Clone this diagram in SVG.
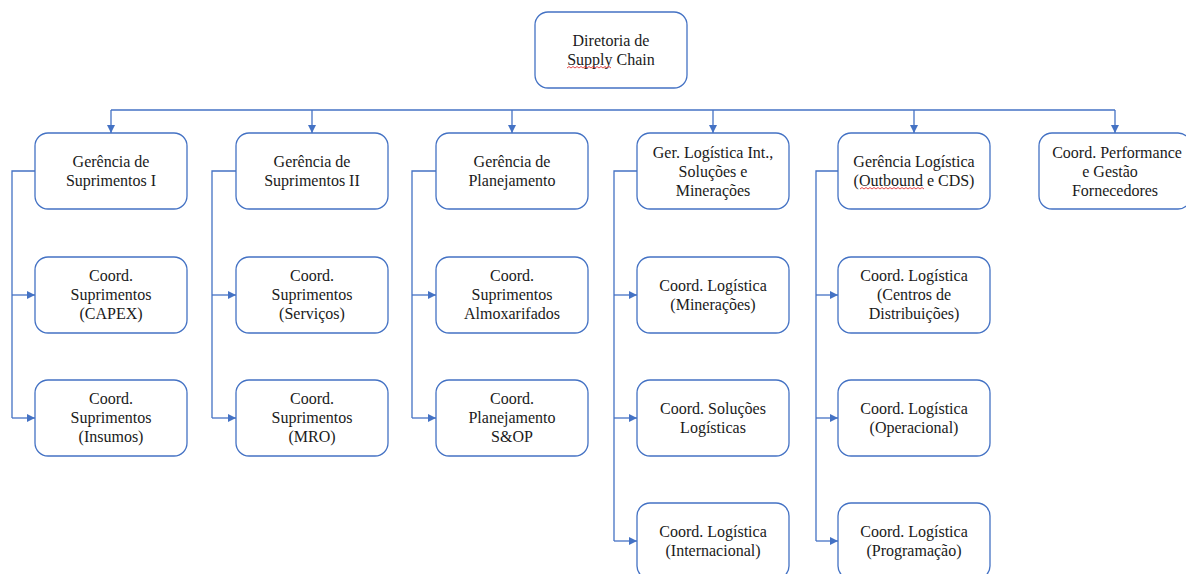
<svg xmlns="http://www.w3.org/2000/svg" width="1186" height="574" viewBox="0 0 1186 574">
<style>
.box{fill:#fff;stroke:#4472c4;stroke-width:1.3}
.t{font-family:"Liberation Serif","Times New Roman",serif;font-size:16px;fill:#1a1a1a;text-anchor:middle}
.c{fill:none;stroke:#4472c4;stroke-width:1.3}
.sq{fill:none;stroke:#e02020;stroke-width:0.8}
</style>
<defs>
<marker id="ah" viewBox="0 0 10 10" refX="10" refY="5" markerWidth="8" markerHeight="8" markerUnits="userSpaceOnUse" orient="auto">
<path d="M0,0 L10,5 L0,10 z" fill="#4472c4"/>
</marker>
</defs>
<rect width="1186" height="574" fill="#fff"/>
<g id="connectors">
<path class="c" d="M111,110 H1115"/>
<path class="c" marker-end="url(#ah)" d="M111,110 V133"/>
<path class="c" marker-end="url(#ah)" d="M312,110 V133"/>
<path class="c" marker-end="url(#ah)" d="M512,110 V133"/>
<path class="c" marker-end="url(#ah)" d="M713,110 V133"/>
<path class="c" marker-end="url(#ah)" d="M914,110 V133"/>
<path class="c" marker-end="url(#ah)" d="M1115,110 V133"/>
<path class="c" d="M35,171 H12 V418"/>
<path class="c" marker-end="url(#ah)" d="M12,295 H35"/>
<path class="c" marker-end="url(#ah)" d="M12,418 H35"/>
<path class="c" d="M236,171 H212 V418"/>
<path class="c" marker-end="url(#ah)" d="M212,295 H236"/>
<path class="c" marker-end="url(#ah)" d="M212,418 H236"/>
<path class="c" d="M436,171 H412 V418"/>
<path class="c" marker-end="url(#ah)" d="M412,295 H436"/>
<path class="c" marker-end="url(#ah)" d="M412,418 H436"/>
<path class="c" d="M637,171 H614 V541"/>
<path class="c" marker-end="url(#ah)" d="M614,295 H637"/>
<path class="c" marker-end="url(#ah)" d="M614,418 H637"/>
<path class="c" marker-end="url(#ah)" d="M614,541 H637"/>
<path class="c" d="M838,171 H816 V541"/>
<path class="c" marker-end="url(#ah)" d="M816,295 H838"/>
<path class="c" marker-end="url(#ah)" d="M816,418 H838"/>
<path class="c" marker-end="url(#ah)" d="M816,541 H838"/>
</g>
<g id="n0"><rect class="box" x="535" y="12" width="152" height="76" rx="13"/>
<text class="t" x="611" y="46"><tspan x="611">Diretoria de</tspan><tspan x="611" dy="19">Supply Chain</tspan></text>
<path class="sq" d="M567,68 l2,-1.5 l2,1.5 l2,-1.5 l2,1.5 l2,-1.5 l2,1.5 l2,-1.5 l2,1.5 l2,-1.5 l2,1.5 l2,-1.5 l2,1.5 l2,-1.5 l2,1.5 l2,-1.5 l2,1.5 l2,-1.5 l2,1.5 l2,-1.5 l2,1.5 l2,-1.5 l2,1.5"/></g>
<g id="n1"><rect class="box" x="35" y="133" width="152" height="76" rx="13"/>
<text class="t" x="111" y="167"><tspan x="111">Gerência de</tspan><tspan x="111" dy="19">Suprimentos I</tspan></text></g>
<g id="n2"><rect class="box" x="236" y="133" width="152" height="76" rx="13"/>
<text class="t" x="312" y="167"><tspan x="312">Gerência de</tspan><tspan x="312" dy="19">Suprimentos II</tspan></text></g>
<g id="n3"><rect class="box" x="436" y="133" width="152" height="76" rx="13"/>
<text class="t" x="512" y="167"><tspan x="512">Gerência de</tspan><tspan x="512" dy="19">Planejamento</tspan></text></g>
<g id="n4"><rect class="box" x="637" y="133" width="152" height="76" rx="13"/>
<text class="t" x="713" y="158"><tspan x="713">Ger. Logística Int.,</tspan><tspan x="713" dy="19">Soluções e</tspan><tspan x="713" dy="19">Minerações</tspan></text></g>
<g id="n5"><rect class="box" x="838" y="133" width="152" height="76" rx="13"/>
<text class="t" x="914" y="167"><tspan x="914">Gerência Logística</tspan><tspan x="914" dy="19">(Outbound e CDS)</tspan></text>
<path class="sq" d="M860,189 l2,-1.5 l2,1.5 l2,-1.5 l2,1.5 l2,-1.5 l2,1.5 l2,-1.5 l2,1.5 l2,-1.5 l2,1.5 l2,-1.5 l2,1.5 l2,-1.5 l2,1.5 l2,-1.5 l2,1.5 l2,-1.5 l2,1.5 l2,-1.5 l2,1.5 l2,-1.5 l2,1.5 l2,-1.5 l2,1.5 l2,-1.5 l2,1.5 l2,-1.5 l2,1.5 l2,-1.5 l2,1.5 l2,-1.5 l2,1.5"/></g>
<g id="n6"><rect class="box" x="1039" y="133" width="152" height="76" rx="13"/>
<text class="t" x="1115" y="158"><tspan x="1117">Coord. Performance</tspan><tspan x="1110" dy="19">e Gestão</tspan><tspan x="1115" dy="19">Fornecedores</tspan></text></g>
<g id="n7"><rect class="box" x="35" y="257" width="152" height="76" rx="13"/>
<text class="t" x="111" y="281"><tspan x="111">Coord.</tspan><tspan x="111" dy="19">Suprimentos</tspan><tspan x="111" dy="19">(CAPEX)</tspan></text></g>
<g id="n8"><rect class="box" x="35" y="380" width="152" height="76" rx="13"/>
<text class="t" x="111" y="404"><tspan x="111">Coord.</tspan><tspan x="111" dy="19">Suprimentos</tspan><tspan x="111" dy="19">(Insumos)</tspan></text></g>
<g id="n9"><rect class="box" x="236" y="257" width="152" height="76" rx="13"/>
<text class="t" x="312" y="281"><tspan x="312">Coord.</tspan><tspan x="312" dy="19">Suprimentos</tspan><tspan x="312" dy="19">(Serviços)</tspan></text></g>
<g id="n10"><rect class="box" x="236" y="380" width="152" height="76" rx="13"/>
<text class="t" x="312" y="404"><tspan x="312">Coord.</tspan><tspan x="312" dy="19">Suprimentos</tspan><tspan x="312" dy="19">(MRO)</tspan></text></g>
<g id="n11"><rect class="box" x="436" y="257" width="152" height="76" rx="13"/>
<text class="t" x="512" y="281"><tspan x="512">Coord.</tspan><tspan x="512" dy="19">Suprimentos</tspan><tspan x="512" dy="19">Almoxarifados</tspan></text></g>
<g id="n12"><rect class="box" x="436" y="380" width="152" height="76" rx="13"/>
<text class="t" x="512" y="404"><tspan x="512">Coord.</tspan><tspan x="512" dy="19">Planejamento</tspan><tspan x="512" dy="19">S&amp;OP</tspan></text></g>
<g id="n13"><rect class="box" x="637" y="257" width="152" height="76" rx="13"/>
<text class="t" x="713" y="291"><tspan x="713">Coord. Logística</tspan><tspan x="713" dy="19">(Minerações)</tspan></text></g>
<g id="n14"><rect class="box" x="637" y="380" width="152" height="76" rx="13"/>
<text class="t" x="713" y="414"><tspan x="713">Coord. Soluções</tspan><tspan x="713" dy="19">Logísticas</tspan></text></g>
<g id="n15"><rect class="box" x="637" y="503" width="152" height="76" rx="13"/>
<text class="t" x="713" y="537"><tspan x="713">Coord. Logística</tspan><tspan x="713" dy="19">(Internacional)</tspan></text></g>
<g id="n16"><rect class="box" x="838" y="257" width="152" height="76" rx="13"/>
<text class="t" x="914" y="281"><tspan x="914">Coord. Logística</tspan><tspan x="914" dy="19">(Centros de</tspan><tspan x="914" dy="19">Distribuições)</tspan></text></g>
<g id="n17"><rect class="box" x="838" y="380" width="152" height="76" rx="13"/>
<text class="t" x="914" y="414"><tspan x="914">Coord. Logística</tspan><tspan x="914" dy="19">(Operacional)</tspan></text></g>
<g id="n18"><rect class="box" x="838" y="503" width="152" height="76" rx="13"/>
<text class="t" x="914" y="537"><tspan x="914">Coord. Logística</tspan><tspan x="914" dy="19">(Programação)</tspan></text></g>
</svg>
